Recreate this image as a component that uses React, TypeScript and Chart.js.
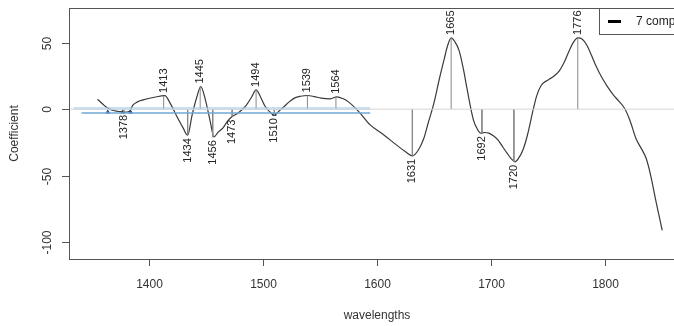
import React, { useEffect, useRef } from "react";
import { Chart, registerables } from "chart.js";

Chart.register(...registerables);

// Curve: regression coefficients vs wavelength
const wavelengths = [
  1355, 1360, 1364, 1370, 1374, 1379, 1383, 1386, 1390, 1395, 1405, 1414, 1419, 1424, 1430, 1434,
  1438, 1442, 1445.5, 1450, 1454, 1457, 1461, 1465, 1469, 1473, 1478, 1485, 1490, 1494, 1498, 1502,
  1506, 1510, 1514, 1518, 1523, 1528, 1533, 1539, 1545, 1551, 1559, 1565, 1570, 1575, 1584, 1594,
  1606, 1617, 1625, 1631, 1636, 1641, 1645, 1650, 1655, 1659, 1662, 1665, 1668, 1672, 1676, 1679,
  1684.5, 1688, 1691, 1694, 1698, 1702, 1706, 1710, 1714, 1718, 1721, 1724, 1728, 1732, 1737, 1740,
  1744, 1750, 1755, 1760, 1764, 1768, 1772, 1776, 1780, 1784, 1788, 1792, 1797, 1802, 1807, 1812,
  1817, 1822, 1827, 1832, 1836, 1840, 1844, 1848, 1850,
];
const coefficients = [
  7.5, 3.5, 0.8, -1.2, -1.8, -2.2, -1.5, 3, 5.5, 7, 9, 10.2, 4, -4.5, -14, -19.5,
  -4, 9, 17, 5.5, -10, -20.8, -17, -14, -9, -5.5, -3, 2.5, 9, 14.5, 9, 2,
  -2, -4.5, -1.5, 1.5, 5.5, 8.5, 9.7, 10.3, 9.5, 8.3, 7.8, 9.3, 8, 5.5, -1.8, -11.8,
  -19.3, -26.8, -32, -35, -31, -22, -10, 5, 24, 38, 48, 53.5, 51, 44, 29, 15,
  -8, -15, -18, -17.5, -18, -20, -23, -28, -33, -37.5, -39.5, -37, -30.5, -19, 0, 10,
  18, 22, 24.8, 29, 35, 43, 50, 53.5, 52.5, 48, 40.5, 32.5, 24, 17, 11, 6,
  0.7, -9, -22, -30, -37, -50, -67, -83, -91,
];

// Labelled extrema with drop lines
const peakWavelengths = [1378, 1413, 1434, 1445, 1456, 1473, 1494, 1510, 1539, 1564, 1631, 1665, 1692, 1720, 1776];
const peakValues = [-2, 10, -19.5, 17, -21, -5.5, 14.5, -4.5, 10.3, 9.3, -35, 53.5, -18, -39.5, 53.5];

// Blue reference lines and markers
const blueLightRange = [1334, 1594];
const blueLightLevel = 0.6;
const blueDarkRange = [1341, 1594];
const blueDarkLevel = -2.8;
const blueMarkWavelengths = [1364, 1377, 1384, 1510];
const blueMarkValues = [-2.2, -2.2, -2.2, -4];

const xTicks = [1400, 1500, 1600, 1700, 1800];
const yTicks = [50, 0, -50, -100];
const xTitle = "wavelengths";
const yTitle = "Coefficient";
const legendLabel = "7 comps";

const FONT = "'Liberation Sans', Arial, sans-serif";

export default function App() {
  const ref = useRef<HTMLCanvasElement | null>(null);

  useEffect(() => {
    document.body.style.margin = "0";
    const canvas = ref.current!;
    const curve = wavelengths.map((w, i) => ({ x: w, y: coefficients[i] }));
    const drops: { x: number; y: number | null }[] = [];
    peakWavelengths.forEach((w, i) => {
      drops.push({ x: w, y: 0 }, { x: w, y: peakValues[i] }, { x: w, y: null });
    });

    const overlay = {
      id: "overlay",
      afterDatasetsDraw(chart: any) {
        const { ctx, chartArea: a, scales } = chart;
        const xs = scales.x;
        const ys = scales.y;
        ctx.save();
        // box
        ctx.strokeStyle = "#555";
        ctx.lineWidth = 1;
        ctx.strokeRect(a.left + 0.5, a.top + 0.5, a.right - a.left, a.bottom - a.top);
        ctx.fillStyle = "#333";
        ctx.font = `12px ${FONT}`;
        // x ticks
        ctx.textAlign = "center";
        ctx.textBaseline = "middle";
        xTicks.forEach((t) => {
          const px = Math.round(xs.getPixelForValue(t)) + 0.5;
          ctx.beginPath();
          ctx.moveTo(px, a.bottom);
          ctx.lineTo(px, a.bottom + 7);
          ctx.stroke();
          ctx.fillText(String(t), px, a.bottom + 26);
        });
        // y ticks
        yTicks.forEach((t) => {
          const py = Math.round(ys.getPixelForValue(t)) + 0.5;
          ctx.beginPath();
          ctx.moveTo(a.left, py);
          ctx.lineTo(a.left - 7, py);
          ctx.stroke();
          ctx.save();
          ctx.translate(a.left - 21, py);
          ctx.rotate(-Math.PI / 2);
          ctx.fillText(String(t), 0, 0);
          ctx.restore();
        });
        // axis titles
        ctx.fillText(xTitle, (a.left + a.right) / 2, 316);
        ctx.save();
        ctx.translate(15, (a.top + a.bottom) / 2);
        ctx.rotate(-Math.PI / 2);
        ctx.fillText(yTitle, 0, 0);
        ctx.restore();
        // peak labels
        ctx.font = `11px ${FONT}`;
        ctx.fillStyle = "#222";
        peakWavelengths.forEach((w, i) => {
          const v = peakValues[i];
          const px = xs.getPixelForValue(w);
          const py = ys.getPixelForValue(v);
          ctx.save();
          ctx.translate(px, py);
          ctx.rotate(-Math.PI / 2);
          if (v >= 0) {
            ctx.textAlign = "left";
            ctx.fillText(String(w), 3, 0);
          } else {
            ctx.textAlign = "right";
            ctx.fillText(String(w), -3, 0);
          }
          ctx.restore();
        });
        // legend
        const lx = 599.5;
        const ly = a.top + 0.5;
        ctx.strokeStyle = "#555";
        ctx.lineWidth = 1;
        ctx.strokeRect(lx, ly, 120, 26);
        ctx.strokeStyle = "#000";
        ctx.lineWidth = 3;
        ctx.beginPath();
        ctx.moveTo(608, ly + 13);
        ctx.lineTo(621, ly + 13);
        ctx.stroke();
        ctx.fillStyle = "#222";
        ctx.font = `12px ${FONT}`;
        ctx.textAlign = "left";
        ctx.fillText(legendLabel, 636, ly + 13);
        ctx.restore();
      },
    };

    const chart = new Chart(canvas, {
      type: "line",
      data: {
        datasets: [
          {
            data: [
              { x: 1330, y: 0 },
              { x: 1870, y: 0 },
            ],
            borderColor: "#d6d6d6",
            borderWidth: 1,
            pointRadius: 0,
          },
          {
            data: [
              { x: blueLightRange[0], y: blueLightLevel },
              { x: blueLightRange[1], y: blueLightLevel },
            ],
            borderColor: "rgba(160,205,238,0.6)",
            borderWidth: 3,
            pointRadius: 0,
          },
          {
            data: [
              { x: blueDarkRange[0], y: blueDarkLevel },
              { x: blueDarkRange[1], y: blueDarkLevel },
            ],
            borderColor: "#6fa8d6",
            borderWidth: 1.5,
            pointRadius: 0,
          },
          {
            data: drops as any,
            borderColor: "#888",
            borderWidth: 1,
            pointRadius: 0,
            spanGaps: false,
          },
          {
            data: curve,
            borderColor: "#3a3a3a",
            borderWidth: 1.2,
            pointRadius: 0,
            cubicInterpolationMode: "monotone",
          },
          {
            data: blueMarkWavelengths.map((w, i) => ({ x: w, y: blueMarkValues[i] })),
            showLine: false,
            pointRadius: 2,
            pointStyle: "triangle",
            pointBackgroundColor: "#1f4f9c",
            pointBorderColor: "#1f4f9c",
          },
        ],
      },
      options: {
        animation: false,
        responsive: false,
        events: [],
        layout: { padding: { left: 69, top: 8, right: 5, bottom: 67 } },
        plugins: { legend: { display: false }, tooltip: { enabled: false } },
        scales: {
          x: { type: "linear", min: 1330, max: 1870, display: false },
          y: { type: "linear", min: -112.5, max: 76, display: false },
        },
      },
      plugins: [overlay],
    });
    return () => chart.destroy();
  }, []);

  return (
    <div style={{ width: 674, height: 326, overflow: "hidden", background: "#fff" }}>
      <canvas ref={ref} width={690} height={326} style={{ width: 690, height: 326, display: "block" }} />
    </div>
  );
}
